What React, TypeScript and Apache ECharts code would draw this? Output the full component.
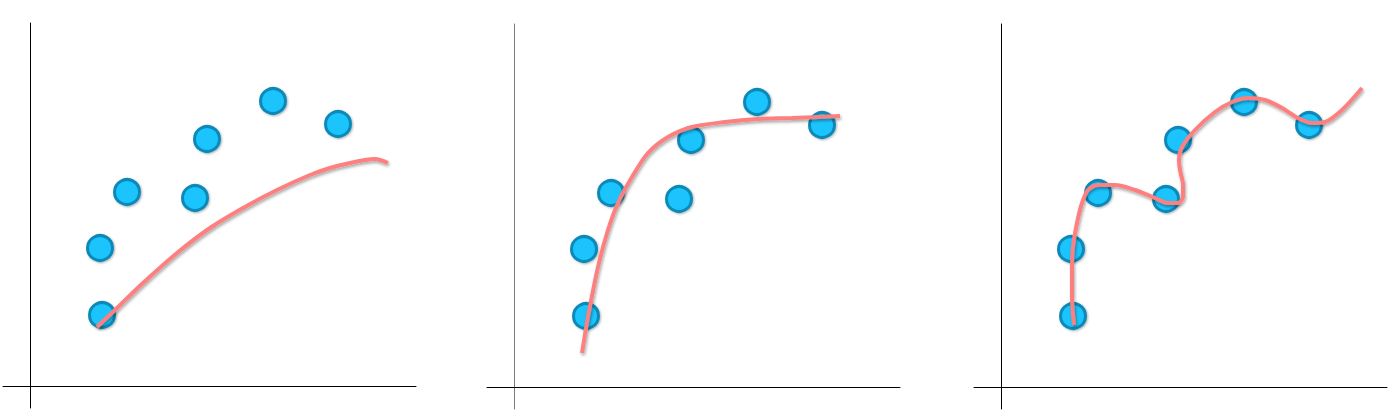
import React, { useEffect, useRef } from "react";
import * as echarts from "echarts";

// Sample points (same in all three panels), units of the hidden value axes
const pointX = [7.2, 7.0, 9.7, 16.5, 17.7, 24.3, 30.8];
const pointY = [7.1, 13.8, 19.4, 18.8, 24.7, 28.5, 26.2];

// Underfit curve (panel 1)
const underX = [6.7, 8.7, 11.3, 14.7, 18.0, 21.3, 24.7, 28.0, 30.0, 32.0, 33.5, 34.5, 35.8];
const underY = [5.9, 7.8, 10.3, 13.3, 15.8, 17.8, 19.6, 21.1, 21.8, 22.3, 22.6, 22.7, 22.3];

// Good fit curve (panel 2)
const goodX = [6.8, 7.4, 8.4, 9.4, 10.4, 11.8, 13.4, 15.4, 17.8, 21.1, 24.4, 27.8, 32.6];
const goodY = [3.4, 7.0, 12.0, 15.7, 18.4, 21.0, 23.4, 25.0, 26.0, 26.5, 26.8, 26.9, 27.1];

// Overfit curve (panel 3)
const overX = [7.3, 7.1, 7.1, 7.2, 7.6, 8.1, 8.7, 9.7, 11.4, 13.4, 15.4, 16.7, 17.7, 18.2, 18.2, 17.9, 17.8, 18.1, 19.4, 21.4, 23.1, 24.7, 26.4, 28.1, 29.7, 31.1, 32.4, 34.1, 36.1];
const overY = [6.2, 9.0, 11.7, 14.0, 16.4, 18.4, 19.7, 20.2, 20.2, 19.7, 18.9, 18.4, 18.4, 19.0, 20.2, 21.7, 22.7, 24.0, 25.7, 27.5, 28.5, 28.9, 28.7, 27.9, 26.9, 26.4, 26.5, 27.7, 29.9];

const X_MIN = -2.7;
const X_MAX = 38.6;
const Y_MIN = -2.2;
const Y_MAX = 36.3;

const zip = (xs: number[], ys: number[]) => xs.map((x, i) => [x, ys[i]]);

export default function App() {
  const ref = useRef<HTMLDivElement>(null);

  useEffect(() => {
    document.body.style.margin = "0";
    if (!ref.current) return;
    const chart = echarts.init(ref.current, null, { renderer: "svg" });

    const grids = [
      { left: 3, top: 23 },
      { left: 487, top: 24 },
      { left: 974, top: 24 },
    ];
    const yColors = ["#000", "#7a7a7a", "#000"];
    const curves = [zip(underX, underY), zip(goodX, goodY), zip(overX, overY)];
    const pts = zip(pointX, pointY);

    const axisBase = {
      type: "value" as const,
      axisLabel: { show: false },
      axisTick: { show: false },
      splitLine: { show: false },
    };

    chart.setOption({
      animation: false,
      grid: grids.map((g) => ({ left: g.left, top: g.top, width: 413, height: 385 })),
      xAxis: grids.map((_, i) => ({
        ...axisBase,
        gridIndex: i,
        min: X_MIN,
        max: X_MAX,
        axisLine: { show: true, onZero: true, lineStyle: { color: "#000", width: 1 } },
      })),
      yAxis: grids.map((_, i) => ({
        ...axisBase,
        gridIndex: i,
        min: Y_MIN,
        max: Y_MAX,
        axisLine: { show: true, onZero: true, lineStyle: { color: yColors[i], width: 1 } },
      })),
      series: [
        ...grids.map((_, i) => ({
          type: "scatter",
          xAxisIndex: i,
          yAxisIndex: i,
          data: pts,
          symbol: "circle",
          symbolSize: 25,
          itemStyle: {
            color: "#1ac4fd",
            borderColor: "#0c89b8",
            borderWidth: 3,
            opacity: 1,
            shadowColor: "rgba(0,0,0,0.3)",
            shadowBlur: 2,
            shadowOffsetX: 1,
            shadowOffsetY: 1,
          },
          z: 2,
        })),
        ...grids.map((_, i) => ({
          type: "line",
          xAxisIndex: i,
          yAxisIndex: i,
          data: curves[i],
          smooth: 0.3,
          showSymbol: false,
          symbol: "none",
          lineStyle: {
            color: "#fd8080",
            width: 4,
            shadowColor: "rgba(0,0,0,0.35)",
            shadowBlur: 3,
            shadowOffsetX: 1,
            shadowOffsetY: 2,
          },
          z: 3,
        })),
      ],
    });

    return () => chart.dispose();
  }, []);

  return <div ref={ref} style={{ width: 1391, height: 418 }} />;
}
